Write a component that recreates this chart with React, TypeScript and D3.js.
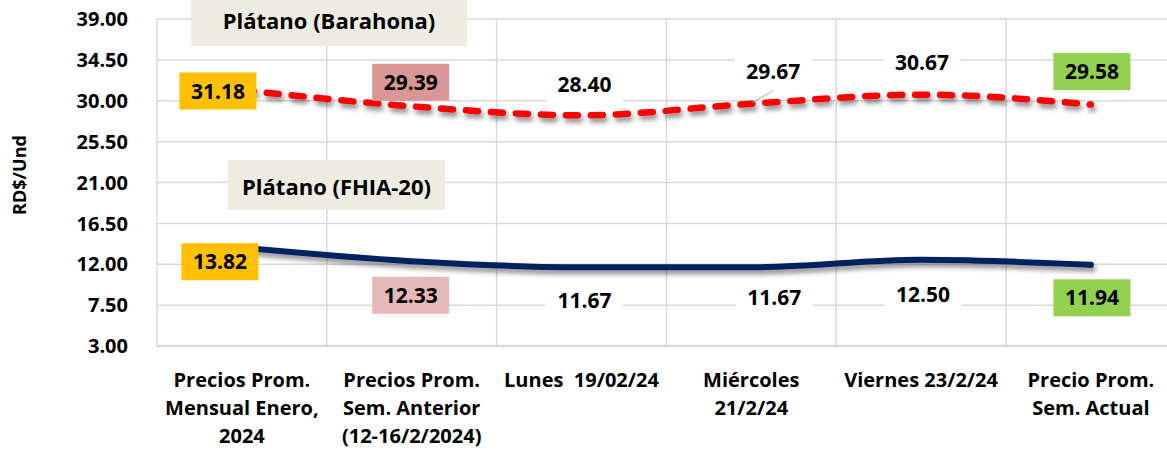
import React, { useEffect, useRef } from 'react';
import * as d3 from 'd3';

const categories = [
  ['Precios Prom.', 'Mensual Enero,', '2024'],
  ['Precios Prom.', 'Sem. Anterior', '(12-16/2/2024)'],
  ['Lunes  19/02/24'],
  ['Miércoles', '21/2/24'],
  ['Viernes 23/2/24'],
  ['Precio Prom.', 'Sem. Actual'],
];
const barahona = [31.18, 29.39, 28.4, 29.67, 30.67, 29.58];
const fhia = [13.82, 12.33, 11.67, 11.67, 12.5, 11.94];
const yTicks = [3, 7.5, 12, 16.5, 21, 25.5, 30, 34.5, 39];

// label placement relative to each point: [dx, dy, background]
const topLabels: [number, number, string][] = [
  [-24, 1, '#FFC000'],
  [-1, -24, '#DA9694'],
  [3, -31, '#FFFFFF'],
  [22, -32, '#FFFFFF'],
  [1, -32, '#FFFFFF'],
  [1, -33, '#92D050'],
];
const bottomLabels: [number, number, string][] = [
  [-22, 14, '#FFC000'],
  [-1, 34, '#E6B8B7'],
  [3, 33, '#FFFFFF'],
  [23, 30, '#FFFFFF'],
  [2, 35, '#FFFFFF'],
  [1, 33, '#92D050'],
];

const W = 1167;
const H = 449;
const FONT = '"Open Sans", Lato, sans-serif';

const App = () => {
  const ref = useRef<SVGSVGElement>(null);

  useEffect(() => {
    const svg = d3.select(ref.current);
    svg.selectAll('*').remove();

    const left = 157;
    const x = d3.scaleBand<number>().domain(d3.range(categories.length)).range([left, left + 6 * 169.8]).padding(0);
    const y = d3.scaleLinear().domain([3, 39]).range([346, 19]);
    const cx = (i: number) => (x(i) as number) + x.bandwidth() / 2;

    const defs = svg.append('defs');
    const f = defs.append('filter').attr('id', 'shadow').attr('x', '-10%').attr('y', '-50%').attr('width', '120%').attr('height', '250%');
    f.append('feDropShadow').attr('dx', 2).attr('dy', 4).attr('stdDeviation', 2.5).attr('flood-color', '#000').attr('flood-opacity', 0.45);

    // gridlines
    const grid = svg.append('g');
    grid.selectAll('line.h')
      .data(yTicks.slice(1))
      .join('line')
      .attr('x1', left).attr('x2', W)
      .attr('y1', d => y(d)).attr('y2', d => y(d))
      .attr('stroke', '#D9D9D9').attr('stroke-width', 1.5);
    grid.selectAll('line.v')
      .data(d3.range(categories.length + 1))
      .join('line')
      .attr('x1', d => left + d * x.bandwidth()).attr('x2', d => left + d * x.bandwidth())
      .attr('y1', y(39)).attr('y2', y(3))
      .attr('stroke', '#D9D9D9').attr('stroke-width', 1.5);
    grid.append('line')
      .attr('x1', left).attr('x2', W).attr('y1', y(3)).attr('y2', y(3))
      .attr('stroke', '#D9D9D9').attr('stroke-width', 2.5);

    // y tick labels
    svg.append('g').selectAll('text')
      .data(yTicks)
      .join('text')
      .attr('x', 128).attr('y', d => y(d))
      .attr('dy', '0.36em')
      .attr('text-anchor', 'end')
      .attr('font-family', FONT).attr('font-weight', 700).attr('font-size', 20)
      .attr('fill', '#000')
      .text(d => d3.format('.2f')(d));

    svg.append('text')
      .attr('transform', 'translate(26,175) rotate(-90)')
      .attr('text-anchor', 'middle')
      .attr('font-family', FONT).attr('font-weight', 700).attr('font-size', 18)
      .text('RD$/Und');

    // x category labels
    const cat = svg.append('g');
    categories.forEach((lines, i) => {
      const t = cat.append('text')
        .attr('text-anchor', 'middle')
        .attr('font-family', FONT).attr('font-weight', 700).attr('font-size', 20);
      lines.forEach((ln, j) => {
        t.append('tspan').attr('x', cx(i)).attr('y', 387 + j * 28).attr('xml:space', 'preserve').text(ln);
      });
    });

    // lines
    const line = (vals: number[]) => d3.line<number>()
      .x((_, i) => cx(i))
      .y(d => y(d))
      .curve(d3.curveMonotoneX)(vals);

    svg.append('path')
      .attr('d', line(fhia))
      .attr('fill', 'none').attr('stroke', '#002060').attr('stroke-width', 6)
      .attr('stroke-linecap', 'round')
      .attr('filter', 'url(#shadow)');

    svg.append('path')
      .attr('d', line(barahona))
      .attr('fill', 'none').attr('stroke', '#FF0000').attr('stroke-width', 6.5)
      .attr('stroke-linecap', 'round').attr('stroke-dasharray', '12 13')
      .attr('filter', 'url(#shadow)');

    // leader line for Miercoles label
    svg.append('line')
      .attr('x1', cx(3) + 1).attr('y1', y(barahona[3]) - 1)
      .attr('x2', cx(3) + 22).attr('y2', y(barahona[3]) - 13)
      .attr('stroke', '#A6A6A6').attr('stroke-width', 1);

    const drawLabels = (vals: number[], lay: [number, number, string][]) => {
      const g = svg.append('g');
      vals.forEach((v, i) => {
        const [dx, dy, bg] = lay[i];
        const lx = cx(i) + dx;
        const ly = y(v) + dy;
        g.append('rect')
          .attr('x', lx - 38.5).attr('y', ly - 18.5)
          .attr('width', 77).attr('height', 37)
          .attr('fill', bg);
        g.append('text')
          .attr('x', lx).attr('y', ly).attr('dy', '0.36em')
          .attr('text-anchor', 'middle')
          .attr('font-family', FONT).attr('font-weight', 700).attr('font-size', 21)
          .attr('fill', '#000')
          .text(d3.format('.2f')(v));
      });
    };
    drawLabels(barahona, topLabels);
    drawLabels(fhia, bottomLabels);

    // series name boxes
    const names: [string, number, number, number, number][] = [
      ['Plátano (Barahona)', 191, 0, 276, 46],
      ['Plátano (FHIA-20)', 228, 160, 217, 50],
    ];
    names.forEach(([txt, bx, by, bw, bh]) => {
      svg.append('rect').attr('x', bx).attr('y', by).attr('width', bw).attr('height', bh).attr('fill', '#EEECE1');
      svg.append('text')
        .attr('x', bx + bw / 2).attr('y', by + bh / 2 + (by === 0 ? -2 : 2)).attr('dy', '0.36em')
        .attr('text-anchor', 'middle')
        .attr('font-family', FONT).attr('font-weight', 700).attr('font-size', 22)
        .text(txt);
    });
  }, []);

  return (
    <svg ref={ref} width={W} height={H} style={{ position: 'absolute', left: 0, top: 0, background: '#fff' }} />
  );
};

export default App;
